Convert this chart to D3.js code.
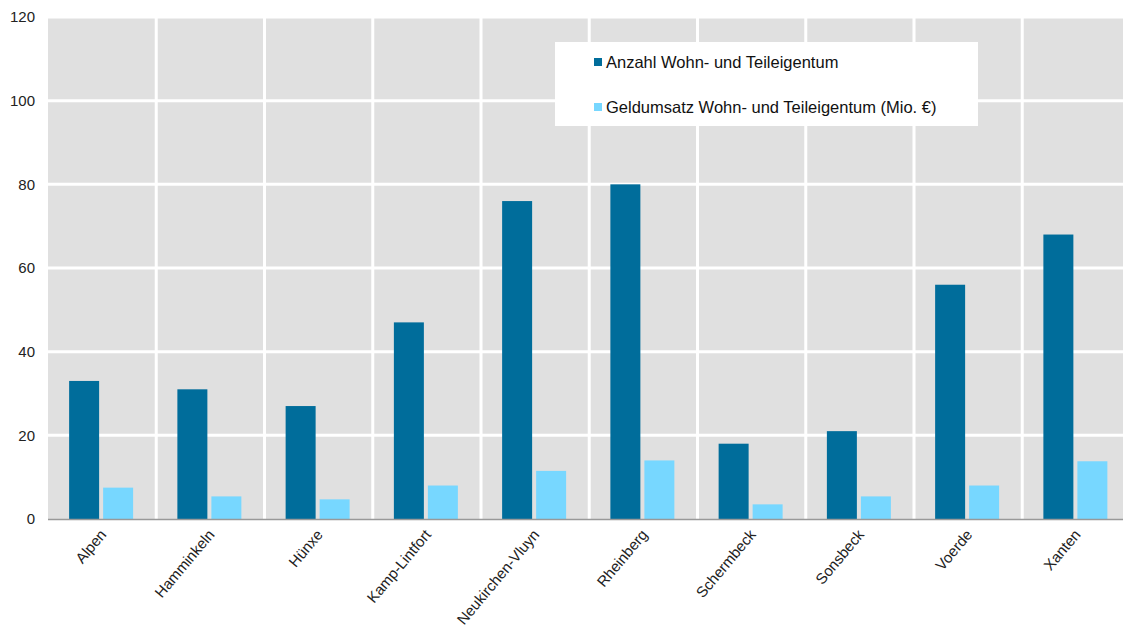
<!DOCTYPE html>
<html><head><meta charset="utf-8">
<script src="https://cdn.jsdelivr.net/npm/d3@7"></script>
<style>body{margin:0;background:#fff;} svg{display:block;font-family:"Liberation Sans",Arial,sans-serif;}</style>
</head><body>
<svg id="c" width="1123" height="628"></svg>
<script>
const categories = ["Alpen","Hamminkeln","Hünxe","Kamp-Lintfort","Neukirchen-Vluyn","Rheinberg","Schermbeck","Sonsbeck","Voerde","Xanten"];
const anzahl = [33,31,27,47,76,80,18,21,56,68];
const geldumsatz = [7.5,5.4,4.7,8,11.5,14,3.5,5.4,8,13.8];
const seriesNames = ["Anzahl Wohn- und Teileigentum","Geldumsatz Wohn- und Teileigentum (Mio. €)"];
const yTicks = [0,20,40,60,80,100,120];
const colors = ["#006d9b","#77d7ff"];

(function(){
const svg = d3.select("#c");
const pL = 48, pR = 1130.5, pT = 17, pB = 519;
const x = d3.scaleBand().domain(categories).range([pL,pR]).paddingInner(0).paddingOuter(0);
const y = d3.scaleLinear().domain([0,120]).range([pB,pT]);

svg.append("rect").attr("x",pL).attr("y",pT).attr("width",pR-pL).attr("height",pB-pT).attr("fill","#e0e0e0");

svg.append("g").selectAll("line").data(yTicks.filter(d=>d>0)).join("line")
  .attr("x1",pL).attr("x2",pR).attr("y1",d=>y(d)).attr("y2",d=>y(d))
  .attr("stroke","#fff").attr("stroke-width",3);
svg.append("g").selectAll("line").data(categories.slice(1)).join("line")
  .attr("x1",d=>x(d)).attr("x2",d=>x(d)).attr("y1",pT).attr("y2",pB)
  .attr("stroke","#fff").attr("stroke-width",3);

const bw = 30, gap = 4;
const g = svg.append("g");
g.selectAll("rect.a").data(categories).join("rect").attr("class","a")
  .attr("x",(d,i)=>x(d)+x.bandwidth()/2 - gap/2 - bw - 1)
  .attr("y",(d,i)=>y(anzahl[i])).attr("width",bw)
  .attr("height",(d,i)=>pB-y(anzahl[i])).attr("fill",colors[0]);
g.selectAll("rect.b").data(categories).join("rect").attr("class","b")
  .attr("x",(d,i)=>x(d)+x.bandwidth()/2 + gap/2 - 1)
  .attr("y",(d,i)=>y(geldumsatz[i])).attr("width",bw)
  .attr("height",(d,i)=>pB-y(geldumsatz[i])).attr("fill",colors[1]);

svg.append("line").attr("x1",pL).attr("x2",pR).attr("y1",pB+0.5).attr("y2",pB+0.5).attr("stroke","#999").attr("stroke-width",1.5);

const ya = svg.append("g").attr("transform",`translate(${pL},0)`).call(d3.axisLeft(y).tickValues(yTicks).tickSize(0).tickPadding(13));
ya.select(".domain").remove();
ya.selectAll("text").attr("font-size",15).attr("fill","#222").attr("font-family","Liberation Sans, Arial, sans-serif");

const xa = svg.append("g").attr("transform",`translate(0,${pB})`).call(d3.axisBottom(x).tickSize(0));
xa.select(".domain").remove();
xa.selectAll("text").attr("font-size",15).attr("fill","#222").attr("font-family","Liberation Sans, Arial, sans-serif")
  .attr("text-anchor","end").attr("dy",null).attr("y",0)
  .attr("transform","translate(5,16) rotate(-50)");

const lg = svg.append("g");
lg.append("rect").attr("x",555).attr("y",42).attr("width",423).attr("height",84).attr("fill","#fff");
seriesNames.forEach((n,i)=>{
  const yy = 62 + i*45;
  lg.append("rect").attr("x",594).attr("y",yy-4).attr("width",8).attr("height",8).attr("fill",colors[i]);
  lg.append("text").attr("x",606).attr("y",yy+6).attr("font-size",16.5).attr("fill","#111").text(n);
});
})();
</script>
</body></html>
